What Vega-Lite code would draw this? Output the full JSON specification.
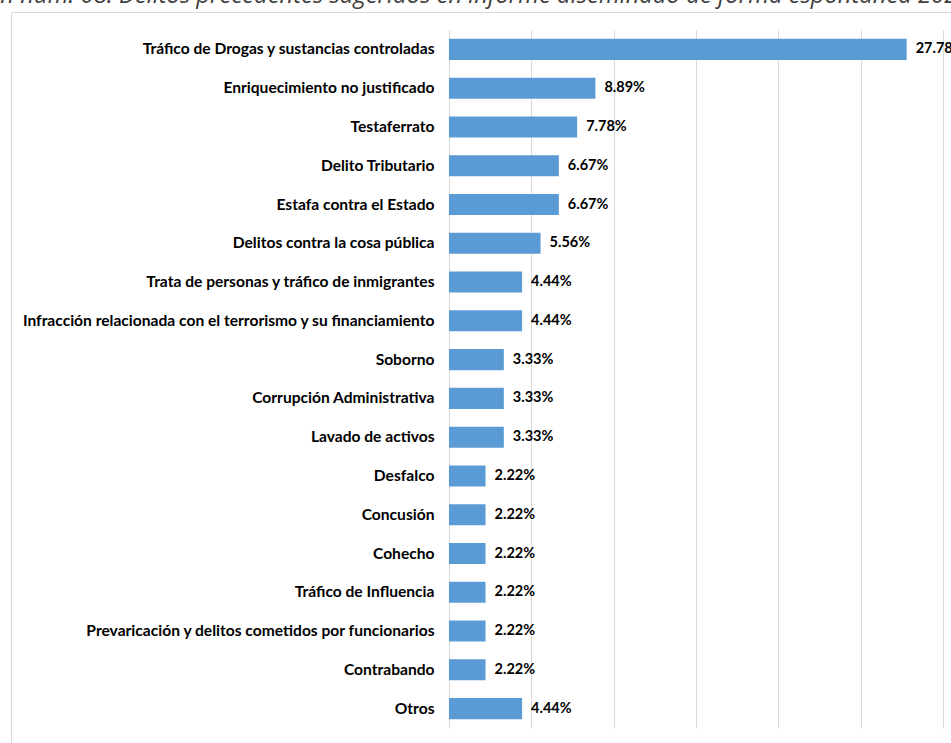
{
  "$schema": "https://vega.github.io/schema/vega-lite/v6.json",
  "width": 940,
  "height": 731,
  "autosize": "none",
  "padding": {"left": 11, "top": 12, "right": 0, "bottom": 0},
  "background": "white",
  "title": {
    "text": "Ilustración núm. 08: Delitos precedentes sugeridos en informe diseminado de forma espontánea 2020",
    "anchor": "start",
    "frame": "group",
    "dx": -108,
    "dy": 20,
    "offset": 5,
    "baseline": "alphabetic",
    "font": "Open Sans",
    "fontStyle": "italic",
    "fontWeight": "normal",
    "fontSize": 23.8,
    "color": "#404040"
  },
  "config": {"view": {"stroke": "#d9d9d9", "strokeWidth": 1}},
  "data": {
    "values": [
      {"delito": "Tráfico de Drogas y sustancias controladas", "pct": 0.2778},
      {"delito": "Enriquecimiento no justificado", "pct": 0.0889},
      {"delito": "Testaferrato", "pct": 0.0778},
      {"delito": "Delito Tributario", "pct": 0.0667},
      {"delito": "Estafa contra el Estado", "pct": 0.0667},
      {"delito": "Delitos contra la cosa pública", "pct": 0.0556},
      {"delito": "Trata de personas y tráfico de inmigrantes", "pct": 0.0444},
      {"delito": "Infracción relacionada con el terrorismo y su financiamiento", "pct": 0.0444},
      {"delito": "Soborno", "pct": 0.0333},
      {"delito": "Corrupción Administrativa", "pct": 0.0333},
      {"delito": "Lavado de activos", "pct": 0.0333},
      {"delito": "Desfalco", "pct": 0.0222},
      {"delito": "Concusión", "pct": 0.0222},
      {"delito": "Cohecho", "pct": 0.0222},
      {"delito": "Tráfico de Influencia", "pct": 0.0222},
      {"delito": "Prevaricación y delitos cometidos por funcionarios", "pct": 0.0222},
      {"delito": "Contrabando", "pct": 0.0222},
      {"delito": "Otros ", "pct": 0.0444}
    ]
  },
  "encoding": {
    "y": {
      "field": "delito",
      "type": "nominal",
      "sort": null,
      "scale": {"range": [18, 716], "paddingInner": 0.457, "paddingOuter": 0.2285},
      "axis": {
        "title": null,
        "offset": -438,
        "domainColor": "#d9d9d9",
        "ticks": false,
        "labelFont": "Lato",
        "labelFontWeight": "bold",
        "labelFontSize": 15.6,
        "labelColor": "#000000",
        "labelPadding": 15,
        "labelLimit": 0
      }
    },
    "x": {
      "field": "pct",
      "type": "quantitative",
      "scale": {"domain": [-0.2658, 0.3047], "nice": false, "zero": false},
      "axis": {
        "orient": "top",
        "title": null,
        "values": [0, 0.05, 0.1, 0.15, 0.2, 0.25, 0.3],
        "labels": false,
        "ticks": false,
        "domain": false,
        "grid": true,
        "gridColor": "#d9d9d9"
      }
    }
  },
  "layer": [
    {"mark": {"type": "bar", "color": "#5B9BD5"}},
    {
      "mark": {"type": "text", "align": "left", "baseline": "middle", "dx": 9, "font": "Lato", "fontWeight": "bold", "fontSize": 14.5, "color": "#000000"},
      "encoding": {"text": {"field": "pct", "type": "quantitative", "format": ".2%"}}
    }
  ]
}
